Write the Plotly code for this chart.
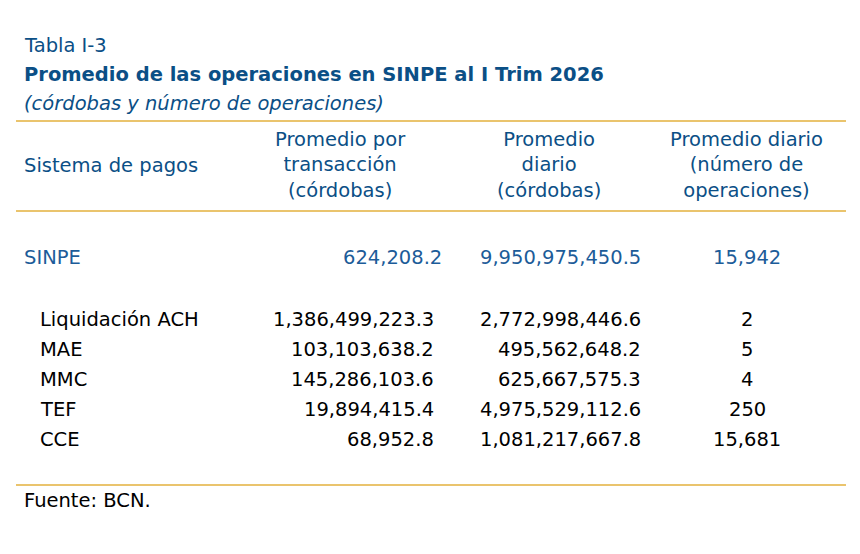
import plotly.graph_objects as go

W, H = 860, 554
title_lines = ["Tabla I-3", "Promedio de las operaciones en SINPE al I Trim 2026", "(córdobas y número de operaciones)"]
headers = ["Sistema de pagos", "Promedio por<br>transacción<br>(córdobas)", "Promedio<br>diario<br>(córdobas)", "Promedio diario<br>(número de<br>operaciones)"]
total_label = "SINPE"
total_values = ["624,208.2", "9,950,975,450.5", "15,942"]
systems = ["Liquidación ACH", "MAE", "MMC", "TEF", "CCE"]
avg_tx = ["1,386,499,223.3", "103,103,638.2", "145,286,103.6", "19,894,415.4", "68,952.8"]
avg_daily = ["2,772,998,446.6", "495,562,648.2", "625,667,575.3", "4,975,529,112.6", "1,081,217,667.8"]
avg_ops = ["2", "5", "4", "250", "15,681"]
source = "Fuente: BCN."

NAVY = "#0B4F86"
BLUE = "#1C5C99"
GOLD = "#E3B13C"
FONT = "DejaVu Sans"
FS = 19.5
DX, DY = -10, -8

def px(x): return (x + DX) / W
def py(y): return 1 - (y + DY) / H

ann = []
def t(text, x, y, anchor="left", color="black", size=FS):
    ann.append(dict(text=text, x=px(x), y=py(y), xref="paper", yref="paper",
                    xanchor=anchor, yanchor="middle", showarrow=False,
                    font=dict(family=FONT, size=size, color=color)))

t(title_lines[0], 24, 45, color=NAVY)
t("<b>" + title_lines[1] + "</b>", 24, 75, color=NAVY)
t("<i>" + title_lines[2] + "</i>", 24, 103, color=NAVY)

t(headers[0], 24, 165, color=NAVY)
for h, x in zip(headers[1:], [342, 551, 748]):
    ann.append(dict(text=h, x=px(x), y=py(165), xref="paper", yref="paper", xanchor="center",
                    yanchor="middle", showarrow=False, align="center",
                    font=dict(family=FONT, size=FS, color=NAVY)))

t(total_label, 24, 258, color=BLUE)
t(total_values[0], 446, 258, "right", BLUE)
t(total_values[1], 645, 258, "right", BLUE)
t(total_values[2], 749, 258, "center", BLUE)

for i, s in enumerate(systems):
    y = 319 + 30 * i
    t(s, 40, y)
    t(avg_tx[i], 438, y, "right")
    t(avg_daily[i], 645, y, "right")
    t(avg_ops[i], 749, y, "center")

t(source, 24, 500)

shapes = [dict(type="line", xref="paper", yref="paper", x0=px(18), x1=px(848), y0=py(y), y1=py(y),
               line=dict(color=GOLD, width=1.3)) for y in (121, 211, 485)]

fig = go.Figure()
fig.update_layout(width=W, height=H, margin=dict(l=0, r=0, t=0, b=0),
                  paper_bgcolor="white", plot_bgcolor="white",
                  xaxis=dict(visible=False), yaxis=dict(visible=False),
                  annotations=ann, shapes=shapes)
fig.write_html("out.html")
